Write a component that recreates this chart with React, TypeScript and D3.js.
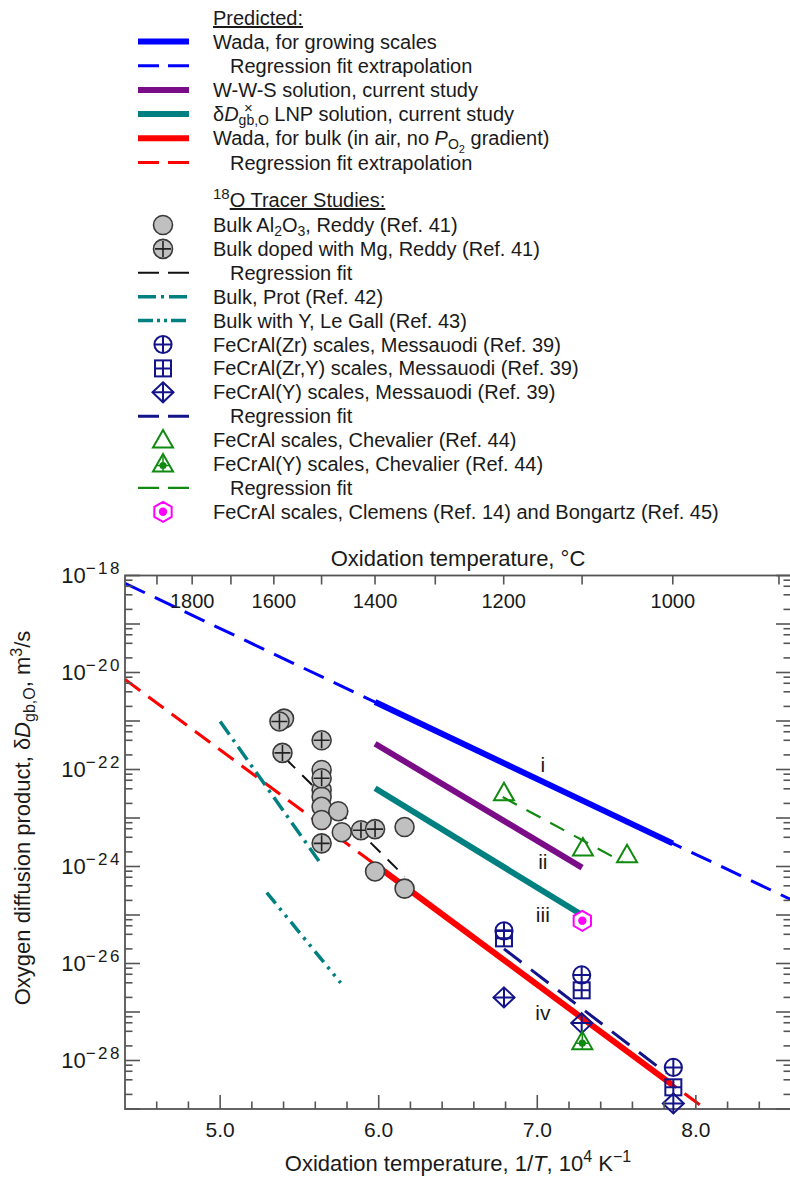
import React from "react";
import * as d3 from "d3";

// ---------------- data ----------------
type P = [number, number]; // [1/T (10^4 K^-1), δD (m^3/s)]

// Predicted lines
const wadaGrowingSolid: P[] = [[5.977, 2.46e-21], [7.854, 3.0e-24]];
const wadaGrowingExtrap: P[] = [[4.4, 6.9e-19], [8.6, 2.08e-25]];
const wwsSolution: P[] = [[5.977, 3.4e-22], [7.2825, 9.5e-25]];
const lnpSolution: P[] = [[5.977, 4.1e-23], [7.2825, 1.0e-25]];
const wadaBulkSolid: P[] = [[5.977, 1.1e-24], [7.854, 3.1e-29]];
const wadaBulkExtrap: P[] = [[4.4, 7.2e-21], [8.2, 4.6e-30]];

// 18O tracer studies
const reddyBulk: P[] = [
  [5.403, 1.12e-21], [5.64, 9.8e-23], [5.64, 3.8e-23], [5.64, 2.75e-23], [5.64, 1.7e-23],
  [5.64, 9.1e-24], [5.745, 1.38e-23], [5.767, 5.1e-24], [6.163, 6.5e-24], [5.977, 7.9e-25],
  [6.163, 3.5e-25],
];
const reddyMg: P[] = [
  [5.374, 9.8e-22], [5.393, 2.2e-22], [5.64, 4.0e-22], [5.64, 6.6e-23], [5.64, 3.0e-24],
  [5.888, 5.6e-24], [5.977, 5.9e-24],
];
const reddyFit: P[] = [[5.41, 1.7e-22], [6.165, 6.2e-25]];
const protBulk: P[] = [[5.0, 9.8e-22], [5.63, 1.2e-24]];
const leGallBulkY: P[] = [[5.294, 2.9e-25], [5.76, 4.0e-27]];
const messZr: P[] = [[6.79, 4.7e-26], [7.28, 5.8e-27], [7.858, 7.2e-29]];
const messZrY: P[] = [[6.79, 3.3e-26], [7.28, 2.8e-27], [7.858, 2.8e-29]];
const messY: P[] = [[6.79, 2.0e-27], [7.28, 5.9e-28], [7.858, 1.3e-29]];
const messFit: P[] = [[6.79, 2.0e-26], [7.813, 5.5e-29]];
const chevFeCrAl: P[] = [[6.79, 3.3e-23], [7.288, 2.4e-24], [7.566, 1.74e-24]];
const chevFeCrAlY: P[] = [[7.284, 2.45e-28]];
const chevFit: P[] = [[6.782, 2.7e-23], [7.538, 1.24e-24]];
const clemens: P[] = [[7.284, 7.6e-26]];

// curve labels
const curveLabels = ["i", "ii", "iii", "iv"];
const curveLabelPos: P[] = [[7.035, 1.24e-22], [7.035, 1.26e-24], [7.035, 1.0e-25], [7.035, 9.4e-28]];

// axes
const xMajorTicks = [5.0, 6.0, 7.0, 8.0];
const xMinorTicks = [4.6, 4.8, 5.2, 5.4, 5.6, 5.8, 6.2, 6.4, 6.6, 6.8, 7.2, 7.4, 7.6, 7.8, 8.2, 8.4];
const topTempTicks = [1900, 1800, 1700, 1600, 1500, 1400, 1300, 1200, 1100, 1000, 900];
const topTempLabels = [1800, 1600, 1400, 1200, 1000];
const yDecades = [-29, -28, -27, -26, -25, -24, -23, -22, -21, -20, -19, -18];
const yLabelDecades = [-28, -26, -24, -22, -20, -18];
const yMinorMultipliers = [2, 4, 6, 8];

// legend
type Seg = { t: string; shift?: number; size?: number; italic?: boolean; dx?: number; underline?: boolean };
const predictedHeader: Seg[] = [{ t: "Predicted:", underline: true }];
const predictedKinds = ["blueSolid", "blueDash", "purpleSolid", "tealSolid", "redSolid", "redDash"];
const predictedLabels: Seg[][] = [
  [{ t: "Wada, for growing scales" }],
  [{ t: "Regression fit extrapolation" }],
  [{ t: "W-W-S solution, current study" }],
  [
    { t: "δ" }, { t: "D", italic: true }, { t: "gb,O", shift: 4, size: 14 },
    { t: "×", shift: -8, size: 15, dx: -25 }, { t: " LNP solution, current study", shift: 0, dx: 16 },
  ],
  [
    { t: "Wada, for bulk (in air, no " }, { t: "P", italic: true }, { t: "O", shift: 4, size: 14 },
    { t: "2", shift: 7.5, size: 11 }, { t: " gradient)", shift: 0 },
  ],
  [{ t: "Regression fit extrapolation" }],
];
const predictedIndent = [false, true, false, false, false, true];

const tracerHeader: Seg[] = [{ t: "18", shift: -8, size: 15 }, { t: "O Tracer Studies:", shift: 0, underline: true }];
const tracerKinds = [
  "grayCircle", "grayCirclePlus", "blackDash", "tealDashDot", "tealDashDotDot", "navyCirclePlus",
  "navySquarePlus", "navyDiamondPlus", "navyDash", "greenTriangle", "greenTriangleDot", "greenDash", "magentaHex",
];
const tracerLabels: Seg[][] = [
  [{ t: "Bulk Al" }, { t: "2", shift: 4, size: 14 }, { t: "O", shift: 0 }, { t: "3", shift: 4, size: 14 }, { t: ", Reddy (Ref. 41)", shift: 0 }],
  [{ t: "Bulk doped with Mg, Reddy (Ref. 41)" }],
  [{ t: "Regression fit" }],
  [{ t: "Bulk, Prot (Ref. 42)" }],
  [{ t: "Bulk with Y, Le Gall (Ref. 43)" }],
  [{ t: "FeCrAl(Zr) scales, Messauodi (Ref. 39)" }],
  [{ t: "FeCrAl(Zr,Y) scales, Messauodi (Ref. 39)" }],
  [{ t: "FeCrAl(Y) scales, Messauodi (Ref. 39)" }],
  [{ t: "Regression fit" }],
  [{ t: "FeCrAl scales, Chevalier (Ref. 44)" }],
  [{ t: "FeCrAl(Y) scales, Chevalier (Ref. 44)" }],
  [{ t: "Regression fit" }],
  [{ t: "FeCrAl scales, Clemens (Ref. 14) and Bongartz (Ref. 45)" }],
];
const tracerIndent = [false, false, true, false, false, false, false, false, true, false, false, true, false];

const yTitle: Seg[] = [
  { t: "Oxygen diffusion product, δ" }, { t: "D", italic: true }, { t: "gb,O", shift: 5, size: 16 },
  { t: ", m", shift: 0 }, { t: "3", shift: -8, size: 16 }, { t: "/s", shift: 0 },
];
const xTitle: Seg[] = [
  { t: "Oxidation temperature, 1/" }, { t: "T", italic: true }, { t: ", 10" },
  { t: "4", shift: -9, size: 16 }, { t: " K", shift: 0 }, { t: "−1", shift: -9, size: 16 }, { t: "", shift: 0 },
];
const topTitle = "Oxidation temperature, °C";

// ---------------- styles ----------------
const FONT = "'Liberation Sans', Arial, Helvetica, sans-serif";
const C = {
  blue: "#0000ff",
  purple: "#7b0c88",
  teal: "#008080",
  red: "#ff0000",
  navy: "#13138a",
  green: "#118a11",
  magenta: "#ff00ff",
  gray: "#c0c0c0",
  grayStroke: "#3a3a3a",
  axis: "#555555",
  text: "#1a1a1a",
};

const LINE_STYLES: Record<string, { stroke: string; width: number; dash?: string; legendDash?: string }> = {
  blueSolid: { stroke: C.blue, width: 6 },
  blueDash: { stroke: C.blue, width: 3, dash: "22,11", legendDash: "21,9" },
  purpleSolid: { stroke: C.purple, width: 6 },
  tealSolid: { stroke: C.teal, width: 6 },
  redSolid: { stroke: C.red, width: 6 },
  redDash: { stroke: C.red, width: 3, dash: "19,10", legendDash: "21,9" },
  blackDash: { stroke: "#111", width: 2, dash: "14,10", legendDash: "21,9" },
  tealDashDot: { stroke: C.teal, width: 3.5, dash: "16,6,3,6", legendDash: "18,5,3,5" },
  tealDashDotDot: { stroke: C.teal, width: 3.5, dash: "14,6,3,6,3,6", legendDash: "15,4,3,4,3,4" },
  navyDash: { stroke: C.navy, width: 3, dash: "22,12", legendDash: "21,9" },
  greenDash: { stroke: C.green, width: 2.2, dash: "16,11", legendDash: "21,9" },
};

// ---------------- geometry ----------------
const W = 790;
const H = 1177;
const PL = 125, PR = 791, PT = 575.5, PB = 1109;

const x = d3.scaleLinear().domain([4.4, 8.6]).range([PL, PR]);
const y = d3.scaleLog().domain([1e-29, 1e-18]).range([PB, PT]);
const line = d3.line<P>().x((d) => x(d[0])).y((d) => y(d[1]));

function Rich({ x: tx, y: ty, segs, size, anchor, transform }: { x: number; y: number; segs: Seg[]; size: number; anchor?: string; transform?: string }) {
  let prev = 0;
  return (
    <text x={tx} y={ty} fontSize={size} textAnchor={anchor as any} transform={transform} fill={C.text} fontFamily={FONT}>
      {segs.map((s, i) => {
        const sh = s.shift ?? prev;
        const dy = sh - prev;
        prev = sh;
        return (
          <tspan
            key={i}
            dy={dy || undefined}
            dx={s.dx}
            fontSize={s.size ?? size}
            fontStyle={s.italic ? "italic" : undefined}
            textDecoration={s.underline ? "underline" : undefined}
          >
            {s.t}
          </tspan>
        );
      })}
    </text>
  );
}

function Marker({ kind, cx, cy }: { kind: string; cx: number; cy: number }) {
  const r = 9.5;
  switch (kind) {
    case "grayCircle":
      return <circle cx={cx} cy={cy} r={r} fill={C.gray} stroke={C.grayStroke} strokeWidth={1.6} />;
    case "grayCirclePlus":
      return (
        <g>
          <circle cx={cx} cy={cy} r={r} fill={C.gray} stroke={C.grayStroke} strokeWidth={1.6} />
          <path d={`M${cx - r + 1.5},${cy}H${cx + r - 1.5}M${cx},${cy - r + 1.5}V${cy + r - 1.5}`} stroke="#222" strokeWidth={1.6} />
        </g>
      );
    case "navyCirclePlus": {
      const rr = 8.6;
      return (
        <g fill="none" stroke={C.navy} strokeWidth={2}>
          <circle cx={cx} cy={cy} r={rr} />
          <path d={`M${cx - rr},${cy}H${cx + rr}M${cx},${cy - rr}V${cy + rr}`} />
        </g>
      );
    }
    case "navySquarePlus": {
      const h = 8;
      return (
        <g fill="none" stroke={C.navy} strokeWidth={2}>
          <rect x={cx - h} y={cy - h} width={2 * h} height={2 * h} />
          <path d={`M${cx - h},${cy}H${cx + h}M${cx},${cy - h}V${cy + h}`} />
        </g>
      );
    }
    case "navyDiamondPlus": {
      const hw = 10.5, hh = 10;
      return (
        <g fill="none" stroke={C.navy} strokeWidth={2}>
          <path d={`M${cx},${cy - hh}L${cx + hw},${cy}L${cx},${cy + hh}L${cx - hw},${cy}Z`} />
          <path d={`M${cx - hw},${cy}H${cx + hw}M${cx},${cy - hh}V${cy + hh}`} />
        </g>
      );
    }
    case "greenTriangle":
      return (
        <path d={`M${cx},${cy - 10}L${cx + 10},${cy + 7.5}L${cx - 10},${cy + 7.5}Z`} fill="none" stroke={C.green} strokeWidth={2} />
      );
    case "greenTriangleDot":
      return (
        <g>
          <path d={`M${cx},${cy - 10}L${cx + 10},${cy + 7.5}L${cx - 10},${cy + 7.5}Z`} fill="none" stroke={C.green} strokeWidth={2} />
          <path d={`M${cx - 6},${cy + 1.5}H${cx + 6}M${cx},${cy - 10}V${cy + 7.5}`} stroke={C.green} strokeWidth={1.5} />
          <circle cx={cx} cy={cy + 1.5} r={3.6} fill={C.green} />
        </g>
      );
    case "magentaHex": {
      const rr = 10;
      const pts = d3.range(6).map((i) => {
        const a = (Math.PI / 3) * i - Math.PI / 2;
        return `${cx + rr * Math.cos(a)},${cy + rr * Math.sin(a)}`;
      });
      return (
        <g>
          <polygon points={pts.join(" ")} fill="#fff" stroke={C.magenta} strokeWidth={2} />
          <circle cx={cx} cy={cy} r={4.2} fill={C.magenta} />
        </g>
      );
    }
    default:
      return null;
  }
}

function LegendLine({ kind, cy }: { kind: string; cy: number }) {
  const s = LINE_STYLES[kind];
  return <line x1={138} x2={189} y1={cy} y2={cy} stroke={s.stroke} strokeWidth={s.width} strokeDasharray={s.legendDash} />;
}

function PlotLine({ data, kind }: { data: P[]; kind: string }) {
  const s = LINE_STYLES[kind];
  return <path d={line(data) || ""} fill="none" stroke={s.stroke} strokeWidth={s.width} strokeDasharray={s.dash} />;
}

export default function App() {
  const predTop = 41.5, predStep = 24.2;
  const trTop = 225, trStep = 23.9;
  const tempToX = (t: number) => x(1e4 / (t + 273.15));

  const yMinor: number[] = [];
  yDecades.slice(0, -1).forEach((e) => yMinorMultipliers.forEach((m) => yMinor.push(m * Math.pow(10, e))));

  return (
    <div style={{ position: "absolute", left: 0, top: 0 }}>
      <svg width={W} height={H} style={{ display: "block", background: "#fff" }} fontFamily={FONT}>
        <defs>
          <clipPath id="plotClip">
            <rect x={PL} y={PT} width={PR - PL} height={PB - PT} />
          </clipPath>
        </defs>

        {/* ---------- Legend ---------- */}
        <Rich x={213} y={25} segs={predictedHeader} size={20} />
        {predictedKinds.map((k, i) => {
          const cy = predTop + i * predStep;
          return (
            <g key={"p" + i}>
              <LegendLine kind={k} cy={cy} />
              <Rich x={predictedIndent[i] ? 230 : 213} y={cy + 7} segs={predictedLabels[i]} size={20} />
            </g>
          );
        })}
        <Rich x={213} y={207} segs={tracerHeader} size={20} />
        {tracerKinds.map((k, i) => {
          const cy = trTop + i * trStep;
          return (
            <g key={"t" + i}>
              {LINE_STYLES[k] ? <LegendLine kind={k} cy={cy} /> : <Marker kind={k} cx={163} cy={cy} />}
              <Rich x={tracerIndent[i] ? 230 : 213} y={cy + 7} segs={tracerLabels[i]} size={20} />
            </g>
          );
        })}

        {/* ---------- Plot lines (clipped) ---------- */}
        <g clipPath="url(#plotClip)">
          <PlotLine data={wadaGrowingExtrap} kind="blueDash" />
          <PlotLine data={wadaBulkExtrap} kind="redDash" />
          <PlotLine data={protBulk} kind="tealDashDot" />
          <PlotLine data={leGallBulkY} kind="tealDashDotDot" />
          <PlotLine data={wadaGrowingSolid} kind="blueSolid" />
          <PlotLine data={wwsSolution} kind="purpleSolid" />
          <PlotLine data={lnpSolution} kind="tealSolid" />
          <PlotLine data={wadaBulkSolid} kind="redSolid" />
          <PlotLine data={reddyFit} kind="blackDash" />
          <PlotLine data={chevFit} kind="greenDash" />
          <PlotLine data={messFit} kind="navyDash" />
        </g>

        {/* ---------- Axes ---------- */}
        <rect x={PL} y={PT} width={PR - PL} height={PB - PT} fill="none" stroke={C.axis} strokeWidth={1.8} />

        {/* ---------- Markers ---------- */}
        {reddyBulk.map((d, i) => <Marker key={"rb" + i} kind="grayCircle" cx={x(d[0])} cy={y(d[1])} />)}
        {reddyMg.map((d, i) => <Marker key={"rm" + i} kind="grayCirclePlus" cx={x(d[0])} cy={y(d[1])} />)}
        {messY.map((d, i) => <Marker key={"my" + i} kind="navyDiamondPlus" cx={x(d[0])} cy={y(d[1])} />)}
        {messZrY.map((d, i) => <Marker key={"mzy" + i} kind="navySquarePlus" cx={x(d[0])} cy={y(d[1])} />)}
        {messZr.map((d, i) => <Marker key={"mz" + i} kind="navyCirclePlus" cx={x(d[0])} cy={y(d[1])} />)}
        {chevFeCrAl.map((d, i) => <Marker key={"cf" + i} kind="greenTriangle" cx={x(d[0])} cy={y(d[1])} />)}
        {chevFeCrAlY.map((d, i) => <Marker key={"cy" + i} kind="greenTriangleDot" cx={x(d[0])} cy={y(d[1])} />)}
        {clemens.map((d, i) => <Marker key={"cl" + i} kind="magentaHex" cx={x(d[0])} cy={y(d[1])} />)}

        {curveLabels.map((l, i) => (
          <text key={"cl" + l} x={x(curveLabelPos[i][0])} y={y(curveLabelPos[i][1]) + 7} fontSize={21} textAnchor="middle" fill={C.text}>
            {l}
          </text>
        ))}

        {/* bottom */}
        {xMajorTicks.map((v) => (
          <g key={"xM" + v}>
            <line x1={x(v)} x2={x(v)} y1={PB} y2={PB - 14} stroke={C.axis} strokeWidth={1.6} />
            <text x={x(v)} y={1137} fontSize={21} textAnchor="middle" fill={C.text}>{v.toFixed(1)}</text>
          </g>
        ))}
        {xMinorTicks.map((v) => (
          <line key={"xm" + v} x1={x(v)} x2={x(v)} y1={PB} y2={PB - 7.5} stroke={C.axis} strokeWidth={1.6} />
        ))}
        <Rich x={(PL + PR) / 2} y={1171} segs={xTitle} size={22} anchor="middle" />

        {/* top */}
        {topTempTicks.map((t) => (
          <line key={"tt" + t} x1={tempToX(t)} x2={tempToX(t)} y1={PT} y2={PT + 9} stroke={C.axis} strokeWidth={1.6} />
        ))}
        {topTempLabels.map((t) => (
          <text key={"tl" + t} x={tempToX(t)} y={608} fontSize={20} textAnchor="middle" fill={C.text}>{t}</text>
        ))}
        <text x={(PL + PR) / 2} y={566} fontSize={22} textAnchor="middle" fill={C.text}>{topTitle}</text>

        {/* left & right */}
        {yDecades.map((e) => {
          const yy = y(Math.pow(10, e));
          return (
            <g key={"yd" + e}>
              <line x1={PL} x2={PL + 15} y1={yy} y2={yy} stroke={C.axis} strokeWidth={1.6} />
              <line x1={PR} x2={PR - 15} y1={yy} y2={yy} stroke={C.axis} strokeWidth={1.6} />
            </g>
          );
        })}
        {yMinor.map((v, i) => {
          const yy = y(v);
          return (
            <g key={"ym" + i}>
              <line x1={PL} x2={PL + 7.5} y1={yy} y2={yy} stroke={C.axis} strokeWidth={1.6} />
              <line x1={PR} x2={PR - 7.5} y1={yy} y2={yy} stroke={C.axis} strokeWidth={1.6} />
            </g>
          );
        })}
        {yLabelDecades.map((e) => (
          <text key={"yl" + e} x={122} y={y(Math.pow(10, e)) + 7.5} fontSize={22} textAnchor="end" fill={C.text}>
            10<tspan dy={-9} fontSize={17} letterSpacing={2.5}>{"−" + Math.abs(e)}</tspan>
          </text>
        ))}
        <Rich x={0} y={0} segs={yTitle} size={22} anchor="middle" transform="translate(30,818) rotate(-90)" />
      </svg>
    </div>
  );
}
